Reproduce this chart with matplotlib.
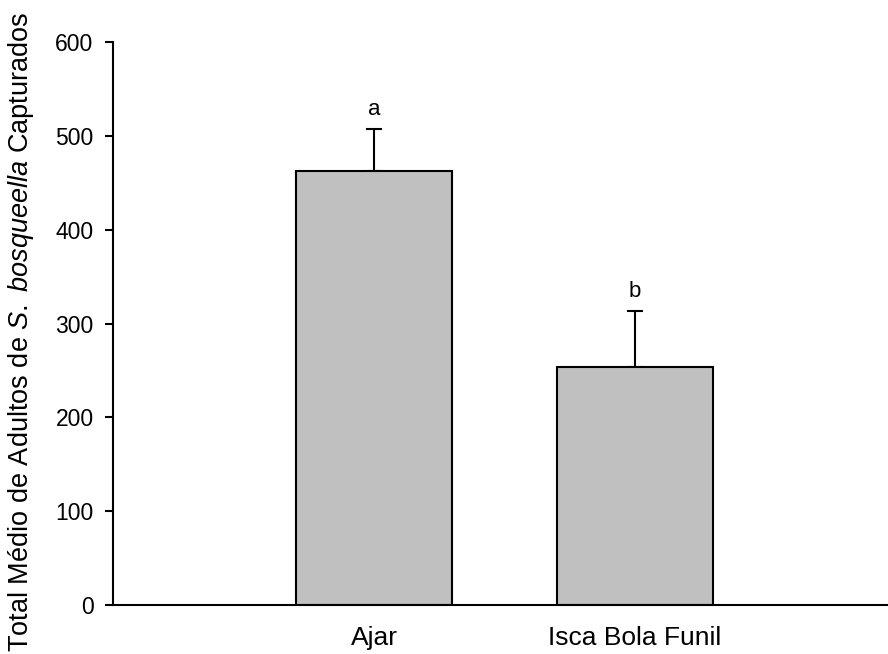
import numpy as np
import matplotlib
matplotlib.use("Agg")
import matplotlib.pyplot as plt

plt.rcParams['font.family'] = ['Liberation Sans', 'DejaVu Sans']
plt.rcParams['mathtext.fontset'] = 'custom'
plt.rcParams['mathtext.rm'] = 'Liberation Sans'
plt.rcParams['mathtext.it'] = 'Liberation Sans:italic'

categories = ["Ajar", "Isca Bola Funil"]
means = [463, 254]
errors = [44, 59]
letters = ["a", "b"]
yticks = [0, 100, 200, 300, 400, 500, 600]

x = np.array([1, 2])

fig = plt.figure(figsize=(8.88, 6.54), dpi=100)
ax = fig.add_axes([0.1273, 0.0749, 0.8727, 0.8609])

ax.bar(x, means, width=0.6, color="#c0c0c0", edgecolor="black", linewidth=1.5, zorder=2)
ax.errorbar(x, means, yerr=[np.zeros(len(errors)), errors], fmt="none",
            ecolor="black", elinewidth=1.5, capsize=6, capthick=1.5, zorder=1)

for xi, m, e, lab in zip(x, means, errors, letters):
    ax.text(xi, m + e + 15, lab, ha="center", va="baseline", fontsize=16)

ax.set_xlim(0, 2.97)
ax.set_ylim(0, 600)
ax.set_xticks(x)
ax.set_xticklabels(categories, fontsize=19)
ax.set_yticks(yticks)
ax.tick_params(axis="y", labelsize=16.5, length=6, width=1.5, pad=8, direction="out")
ax.tick_params(axis="x", length=0, pad=15)

for s in ["top", "right"]:
    ax.spines[s].set_visible(False)
for s in ["left", "bottom"]:
    ax.spines[s].set_linewidth(1.5)

ax.set_ylabel(r"Total Médio de Adultos de $\mathit{S.}$ $\mathit{bosqueella}$ Capturados", fontsize=19.5)
ax.yaxis.set_label_coords(-0.099, 0.485)

fig.savefig("out.png", dpi=100)
